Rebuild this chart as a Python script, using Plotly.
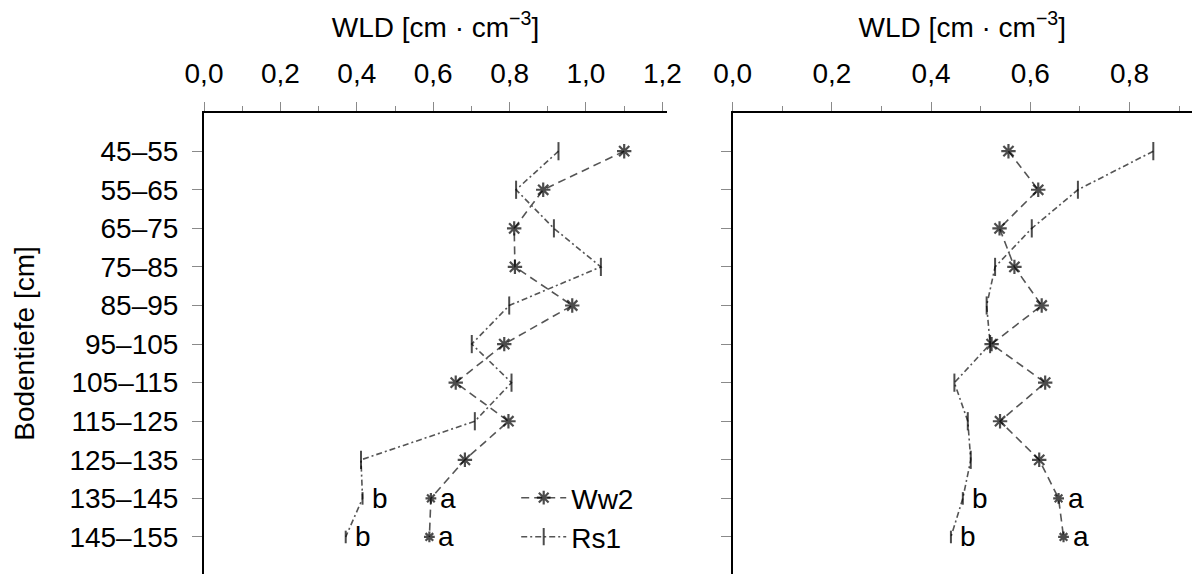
import plotly.graph_objects as go

# ---------------- data ----------------
depths = ["45–55", "55–65", "65–75", "75–85", "85–95", "95–105",
          "105–115", "115–125", "125–135", "135–145", "145–155"]

left_ww2 = [1.100, 0.888, 0.812, 0.814, 0.964, 0.786, 0.659, 0.797, 0.683, 0.594, 0.590]
left_rs1 = [0.928, 0.817, 0.916, 1.039, 0.799, 0.701, 0.805, 0.709, 0.411, 0.415, 0.371]

right_ww2 = [0.556, 0.616, 0.538, 0.568, 0.623, 0.522, 0.630, 0.539, 0.618, 0.657, 0.667]
right_rs1 = [0.848, 0.696, 0.603, 0.529, 0.512, 0.519, 0.447, 0.474, 0.480, 0.464, 0.440]

sig_rows = ["135–145", "145–155"]
sig_ww2 = ["a", "a"]
sig_rs1 = ["b", "b"]

x_title = "WLD [cm · cm<sup>−3</sup>]"
y_title = "Bodentiefe [cm]"

# ---------------- style ----------------
FONT = "Liberation Sans, Arial, Helvetica, sans-serif"
FS = 28
LINE_COL = "#555555"
TICK_COL = "#8a8a8a"
n = len(depths)
ast_sizes = [12] * (n - 2) + [9, 9]
tick_sizes = [13] * (n - 2) + [9, 9]

fig = go.Figure()

def add_pair(ww2, rs1, xa, ya, show):
    fig.add_trace(go.Scatter(
        x=ww2, y=depths, xaxis=xa, yaxis=ya, name="Ww2", mode="lines+markers",
        line=dict(color=LINE_COL, width=1.6, dash="8px,5px"),
        marker=dict(symbol="asterisk-open", size=ast_sizes, color="black",
                    line=dict(color="black", width=2.2)),
        showlegend=show, legend="legend"))
    fig.add_trace(go.Scatter(
        x=rs1, y=depths, xaxis=xa, yaxis=ya, name="Rs1", mode="lines+markers",
        line=dict(color=LINE_COL, width=1.6, dash="6px,3px,2px,3px"),
        marker=dict(symbol="line-ns-open", size=tick_sizes, color="black",
                    line=dict(color="black", width=2)),
        showlegend=show, legend="legend2"))

add_pair(left_ww2, left_rs1, "x", "y", True)
add_pair(right_ww2, right_rs1, "x2", "y2", False)

# significance letters
annos = []
for xs, labs, ax, ay in [(left_ww2, sig_ww2, "x", "y"), (right_ww2, sig_ww2, "x2", "y2"),
                         (left_rs1, sig_rs1, "x", "y"), (right_rs1, sig_rs1, "x2", "y2")]:
    for row, lab in zip(sig_rows, labs):
        i = depths.index(row)
        annos.append(dict(x=xs[i], y=row, xref=ax, yref=ay, text=lab, showarrow=False,
                          xanchor="left", yanchor="middle", xshift=7,
                          font=dict(size=FS, color="black", family=FONT)))

xaxis_common = dict(
    side="top", showline=True, linecolor="black", linewidth=2,
    ticks="outside", ticklen=9, tickcolor=TICK_COL, tickwidth=1,
    dtick=0.2, tick0=0, tickformat=".1f",
    minor=dict(ticks="outside", ticklen=5, tickcolor=TICK_COL, dtick=0.1, tickwidth=1),
    showgrid=False, zeroline=False, mirror=False, automargin=False,
    tickfont=dict(size=FS, color="black", family=FONT),
    ticklabelstandoff=8,
    title=dict(text=x_title, font=dict(size=FS, color="black", family=FONT), standoff=12),
)
yaxis_common = dict(
    type="category", categoryorder="array", categoryarray=depths,
    range=[10.96, -0.99],
    showline=True, linecolor="black", linewidth=2,
    ticks="outside", ticklen=10, tickcolor=TICK_COL, tickwidth=1,
    showgrid=False, zeroline=False, automargin=False,
    tickfont=dict(size=FS, color="black", family=FONT),
)

fig.update_layout(
    width=1192, height=574,
    margin=dict(l=204, r=0, t=113, b=0, autoexpand=False),
    paper_bgcolor="white", plot_bgcolor="white",
    separators=",.",
    font=dict(family=FONT, size=FS, color="black"),
    xaxis=dict(domain=[0, 0.4686], range=[0, 1.212], anchor="y", **xaxis_common),
    xaxis2=dict(domain=[0.5351, 1], range=[0, 0.926], anchor="y2", **xaxis_common),
    yaxis=dict(anchor="x", ticklabelstandoff=8,
               title=dict(text=y_title, font=dict(size=FS, color="black", family=FONT), standoff=27),
               **yaxis_common),
    yaxis2=dict(anchor="x2", showticklabels=False, **yaxis_common),
    legend=dict(x=0.316, y=0.1649, xanchor="left", yanchor="middle",
                bgcolor="rgba(0,0,0,0)", borderwidth=0, itemwidth=45,
                font=dict(size=FS, color="black", family=FONT)),
    legend2=dict(x=0.316, y=0.0803, xanchor="left", yanchor="middle",
                 bgcolor="rgba(0,0,0,0)", borderwidth=0, itemwidth=45,
                 font=dict(size=FS, color="black", family=FONT)),
    annotations=annos,
)

fig.write_html(
    "out.html",
    config={"displayModeBar": False},
    post_script="document.body.style.margin='0px';document.body.style.padding='0px';"
                "document.body.style.overflow='hidden';",
)
